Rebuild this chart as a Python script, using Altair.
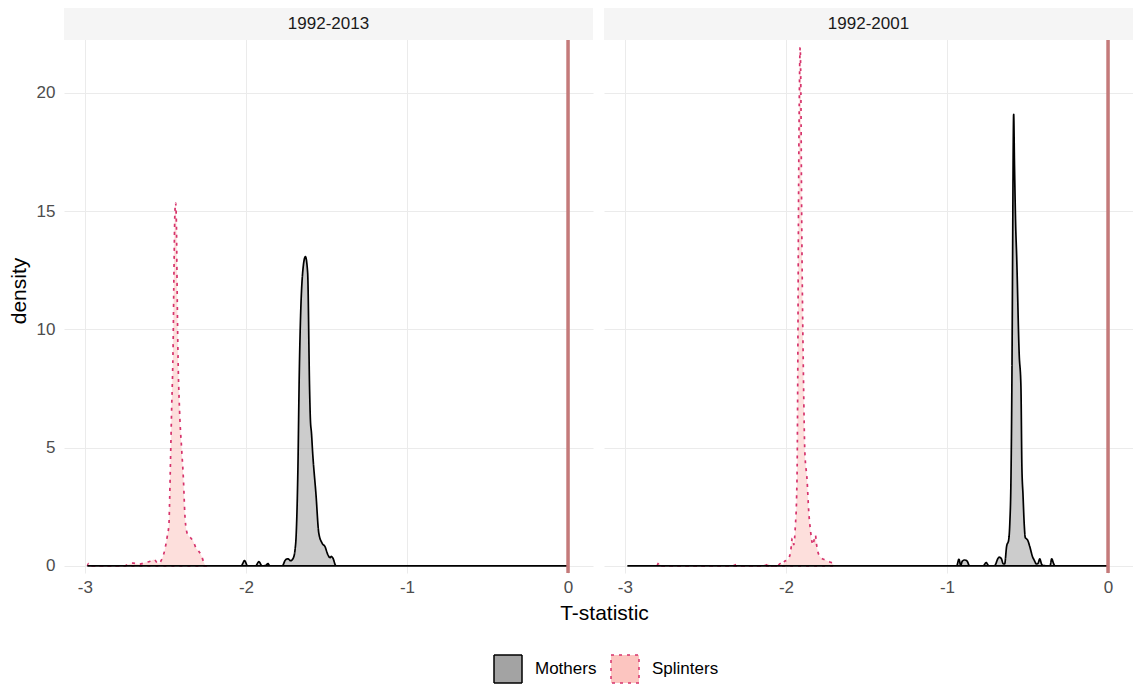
import altair as alt
import pandas as pd

# ---------------- data ----------------
panels = ["1992-2013", "1992-2001"]
groups = ["Mothers", "Splinters"]

left_mothers_x = [-2.985, -2.03, -2.009, -1.99, -1.94, -1.92, -1.90, -1.876, -1.864, -1.852,
                  -1.775, -1.755, -1.74, -1.722, -1.705, -1.695, -1.689, -1.678, -1.669, -1.648,
                  -1.631, -1.617, -1.605, -1.600, -1.593, -1.586, -1.565, -1.548, -1.528, -1.508,
                  -1.493, -1.478, -1.470, -1.458, -1.446, -1.44, 0.0]
left_mothers_y = [0, 0, 0.22, 0, 0, 0.18, 0, 0.02, 0.10, 0,
                  0, 0.25, 0.3, 0.22, 0.35, 0.7, 1.2, 3.9, 8.1, 12.4,
                  13.08, 12.4, 7.5, 6.2, 5.6, 4.8, 3.0, 1.4, 0.97, 0.8,
                  0.5, 0.35, 0.4, 0.3, 0.05, 0, 0]

left_splinters_x = [-2.985, -2.978, -2.97, -2.76, -2.735, -2.70, -2.665, -2.625, -2.595, -2.57,
                    -2.55, -2.54, -2.525, -2.505, -2.49, -2.478, -2.475, -2.47, -2.462, -2.452,
                    -2.447, -2.441, -2.437, -2.432, -2.428, -2.423, -2.412, -2.40, -2.388, -2.380,
                    -2.368, -2.359, -2.343, -2.328, -2.31, -2.297, -2.276, -2.262, -2.25]
left_splinters_y = [0, 0.1, 0, 0, 0.05, 0.12, 0.07, 0.14, 0.2, 0.27,
                    0.12, 0.1, 0.25, 0.65, 1.2, 1.8, 2.5, 4.0, 6.5, 9.5,
                    12.5, 15.0, 15.35, 14.5, 12.0, 9.3, 6.5, 5.0, 3.6, 2.24,
                    1.45, 1.3, 1.18, 1.05, 0.75, 0.65, 0.42, 0.15, 0]

right_mothers_x = [-2.985, -0.94, -0.926, -0.915, -0.905, -0.891, -0.875, -0.86, -0.775, -0.757,
                   -0.74, -0.705, -0.696, -0.685, -0.675, -0.662, -0.652, -0.642, -0.63, -0.617,
                   -0.61, -0.603, -0.597, -0.592, -0.589, -0.586, -0.581, -0.574, -0.567, -0.552,
                   -0.541, -0.535, -0.528, -0.52, -0.514, -0.507, -0.5, -0.486, -0.469, -0.459,
                   -0.444, -0.435, -0.424, -0.414, -0.405, -0.36, -0.35, -0.338, -0.329, 0.0]
right_mothers_y = [0, 0, 0.28, 0.03, 0.2, 0.25, 0.2, 0, 0, 0.14,
                   0, 0, 0.1, 0.3, 0.37, 0.3, 0.1, 0.08, 0.82, 1.1,
                   1.8, 3.6, 7.8, 13.8, 17.5, 19.1, 17.0, 14.5, 13.0, 9.0,
                   7.6, 4.2, 3.0, 1.7, 1.2, 1.15, 1.1, 0.82, 0.39, 0.25,
                   0.08, 0.1, 0.3, 0.1, 0.02, 0, 0.3, 0.1, 0, 0]

right_splinters_x = [-2.80, -2.788, -2.776, -2.33, -2.31, -2.29, -2.16, -2.14, -2.125, -2.111,
                     -2.095, -2.05, -2.037, -2.02, -2.008, -1.988, -1.978, -1.971, -1.961, -1.951,
                     -1.942, -1.934, -1.930, -1.927, -1.922, -1.916, -1.912, -1.908, -1.903, -1.891,
                     -1.883, -1.869, -1.858, -1.848, -1.838, -1.833, -1.825, -1.817, -1.81, -1.802,
                     -1.782, -1.755, -1.728, -1.708, -1.70]
right_splinters_y = [0, 0.14, 0, 0, 0.05, 0, 0, 0.05, 0.02, 0.1,
                     0, 0, 0.1, 0.05, 0.2, 0.25, 0.4, 0.6, 1.17, 0.9,
                     1.66, 2.9, 4.5, 7.8, 15.3, 20.5, 21.93, 20.5, 15.3, 7.8,
                     4.86, 3.64, 2.24, 1.52, 1.0, 0.89, 1.1, 1.3, 0.9, 0.6,
                     0.34, 0.25, 0.17, 0.08, 0]

reference_line = [0.0]
x_ticks = [-3, -2, -1, 0]
y_ticks = [0, 5, 10, 15, 20]

# ---------------- styling ----------------
FONT = "Liberation Sans"
W = 529
H = 565
STRIP = 32
X_DOMAIN = [-3.13, 0.155]
Y_BOTTOM = -0.3
Y_PANEL_TOP = 22.24
Y_TOP = Y_PANEL_TOP + STRIP * (Y_PANEL_TOP - Y_BOTTOM) / (H - STRIP)

FILLS = ["#A3A3A3", "#FCC5C0"]
STROKES = ["#000000", "#D6336C"]
DASHES = [[1, 0], [3, 5]]
fill_scale = alt.Scale(domain=groups, range=FILLS)
stroke_scale = alt.Scale(domain=groups, range=STROKES)

# legend layout (pixels relative to the left plot area)
KEY = 28
KEY_Y = 647
KEY_X = [430, 547]
LABEL_X = [471, 588]


def panel(label, mx, my, sx, sy, first):
    mothers = pd.DataFrame({"x": mx, "y": my, "group": groups[0]})
    splinters = pd.DataFrame({"x": sx, "y": sy, "group": groups[1]})

    if first:
        x_axis = alt.Axis(values=x_ticks, labelExpr="toString(datum.value)", labelPadding=6,
                          title="T-statistic", titleX=540, titleY=40, titleAlign="center",
                          titleBaseline="middle")
        y_axis = alt.Axis(values=y_ticks, title="density", labelPadding=9, titlePadding=7)
    else:
        x_axis = alt.Axis(values=x_ticks, labelExpr="toString(datum.value)", labelPadding=6,
                          title=None)
        y_axis = alt.Axis(values=y_ticks, labels=False, title=None, grid=True)

    x_enc = alt.X("x:Q", scale=alt.Scale(domain=X_DOMAIN, nice=False, zero=False), axis=x_axis)
    y_enc = alt.Y("y:Q", scale=alt.Scale(domain=[Y_BOTTOM, Y_TOP], nice=False, zero=False),
                  axis=y_axis, stack=None)

    def area(df, dash):
        return alt.Chart(df).mark_area(interpolate="monotone", fillOpacity=0.55,
                                       strokeWidth=1.7, strokeDash=dash).encode(
            x=x_enc, y=y_enc,
            fill=alt.Fill("group:N", scale=fill_scale, legend=None),
            stroke=alt.Stroke("group:N", scale=stroke_scale, legend=None))

    vline = alt.Chart(pd.DataFrame({"x": reference_line})).mark_rule(
        color="#C47A7A", strokeWidth=3.5).encode(
        x=alt.X("x:Q"), y=alt.datum(Y_PANEL_TOP), y2=alt.datum(Y_BOTTOM))

    strip_df = pd.DataFrame({"label": [label]})
    strip_bg = alt.Chart(strip_df).mark_rect(color="#F5F5F5").encode(
        x=alt.value(0), x2=alt.value(W), y=alt.value(0), y2=alt.value(STRIP))
    strip_txt = alt.Chart(strip_df).mark_text(
        font=FONT, fontSize=17, color="#1A1A1A", align="center", baseline="middle").encode(
        text="label:N", x=alt.value(W / 2), y=alt.value(STRIP / 2))

    layers = [area(splinters, DASHES[1]), area(mothers, DASHES[0]), vline, strip_bg, strip_txt]

    if first:
        for i, g in enumerate(groups):
            gdf = pd.DataFrame({"group": [g]})
            layers.append(alt.Chart(gdf).mark_rect(
                fill=FILLS[i], stroke=STROKES[i], strokeWidth=1.5, strokeDash=DASHES[i],
                clip=False).encode(
                x=alt.value(KEY_X[i]), x2=alt.value(KEY_X[i] + KEY),
                y=alt.value(KEY_Y), y2=alt.value(KEY_Y + KEY)))
            layers.append(alt.Chart(gdf).mark_text(
                font=FONT, fontSize=17, color="black", align="left", baseline="middle",
                clip=False).encode(
                text="group:N", x=alt.value(LABEL_X[i]), y=alt.value(KEY_Y + KEY / 2)))

    return alt.layer(*layers).properties(width=W, height=H)


left = panel(panels[0], left_mothers_x, left_mothers_y, left_splinters_x, left_splinters_y, True)
right = panel(panels[1], right_mothers_x, right_mothers_y, right_splinters_x, right_splinters_y, False)

chart = alt.hconcat(left, right, spacing=11, bounds="flush").resolve_scale(
    x="independent", y="independent", fill="shared", stroke="shared"
).properties(padding=0).configure_view(stroke=None).configure_axis(
    labelFont=FONT, titleFont=FONT, labelFontSize=17, titleFontSize=21,
    labelColor="#4D4D4D", titleColor="black", titleFontWeight="normal",
    gridColor="#EBEBEB", gridWidth=1, domain=False, ticks=False,
)

chart.save("out.html", embed_options={"renderer": "svg", "actions": False})
